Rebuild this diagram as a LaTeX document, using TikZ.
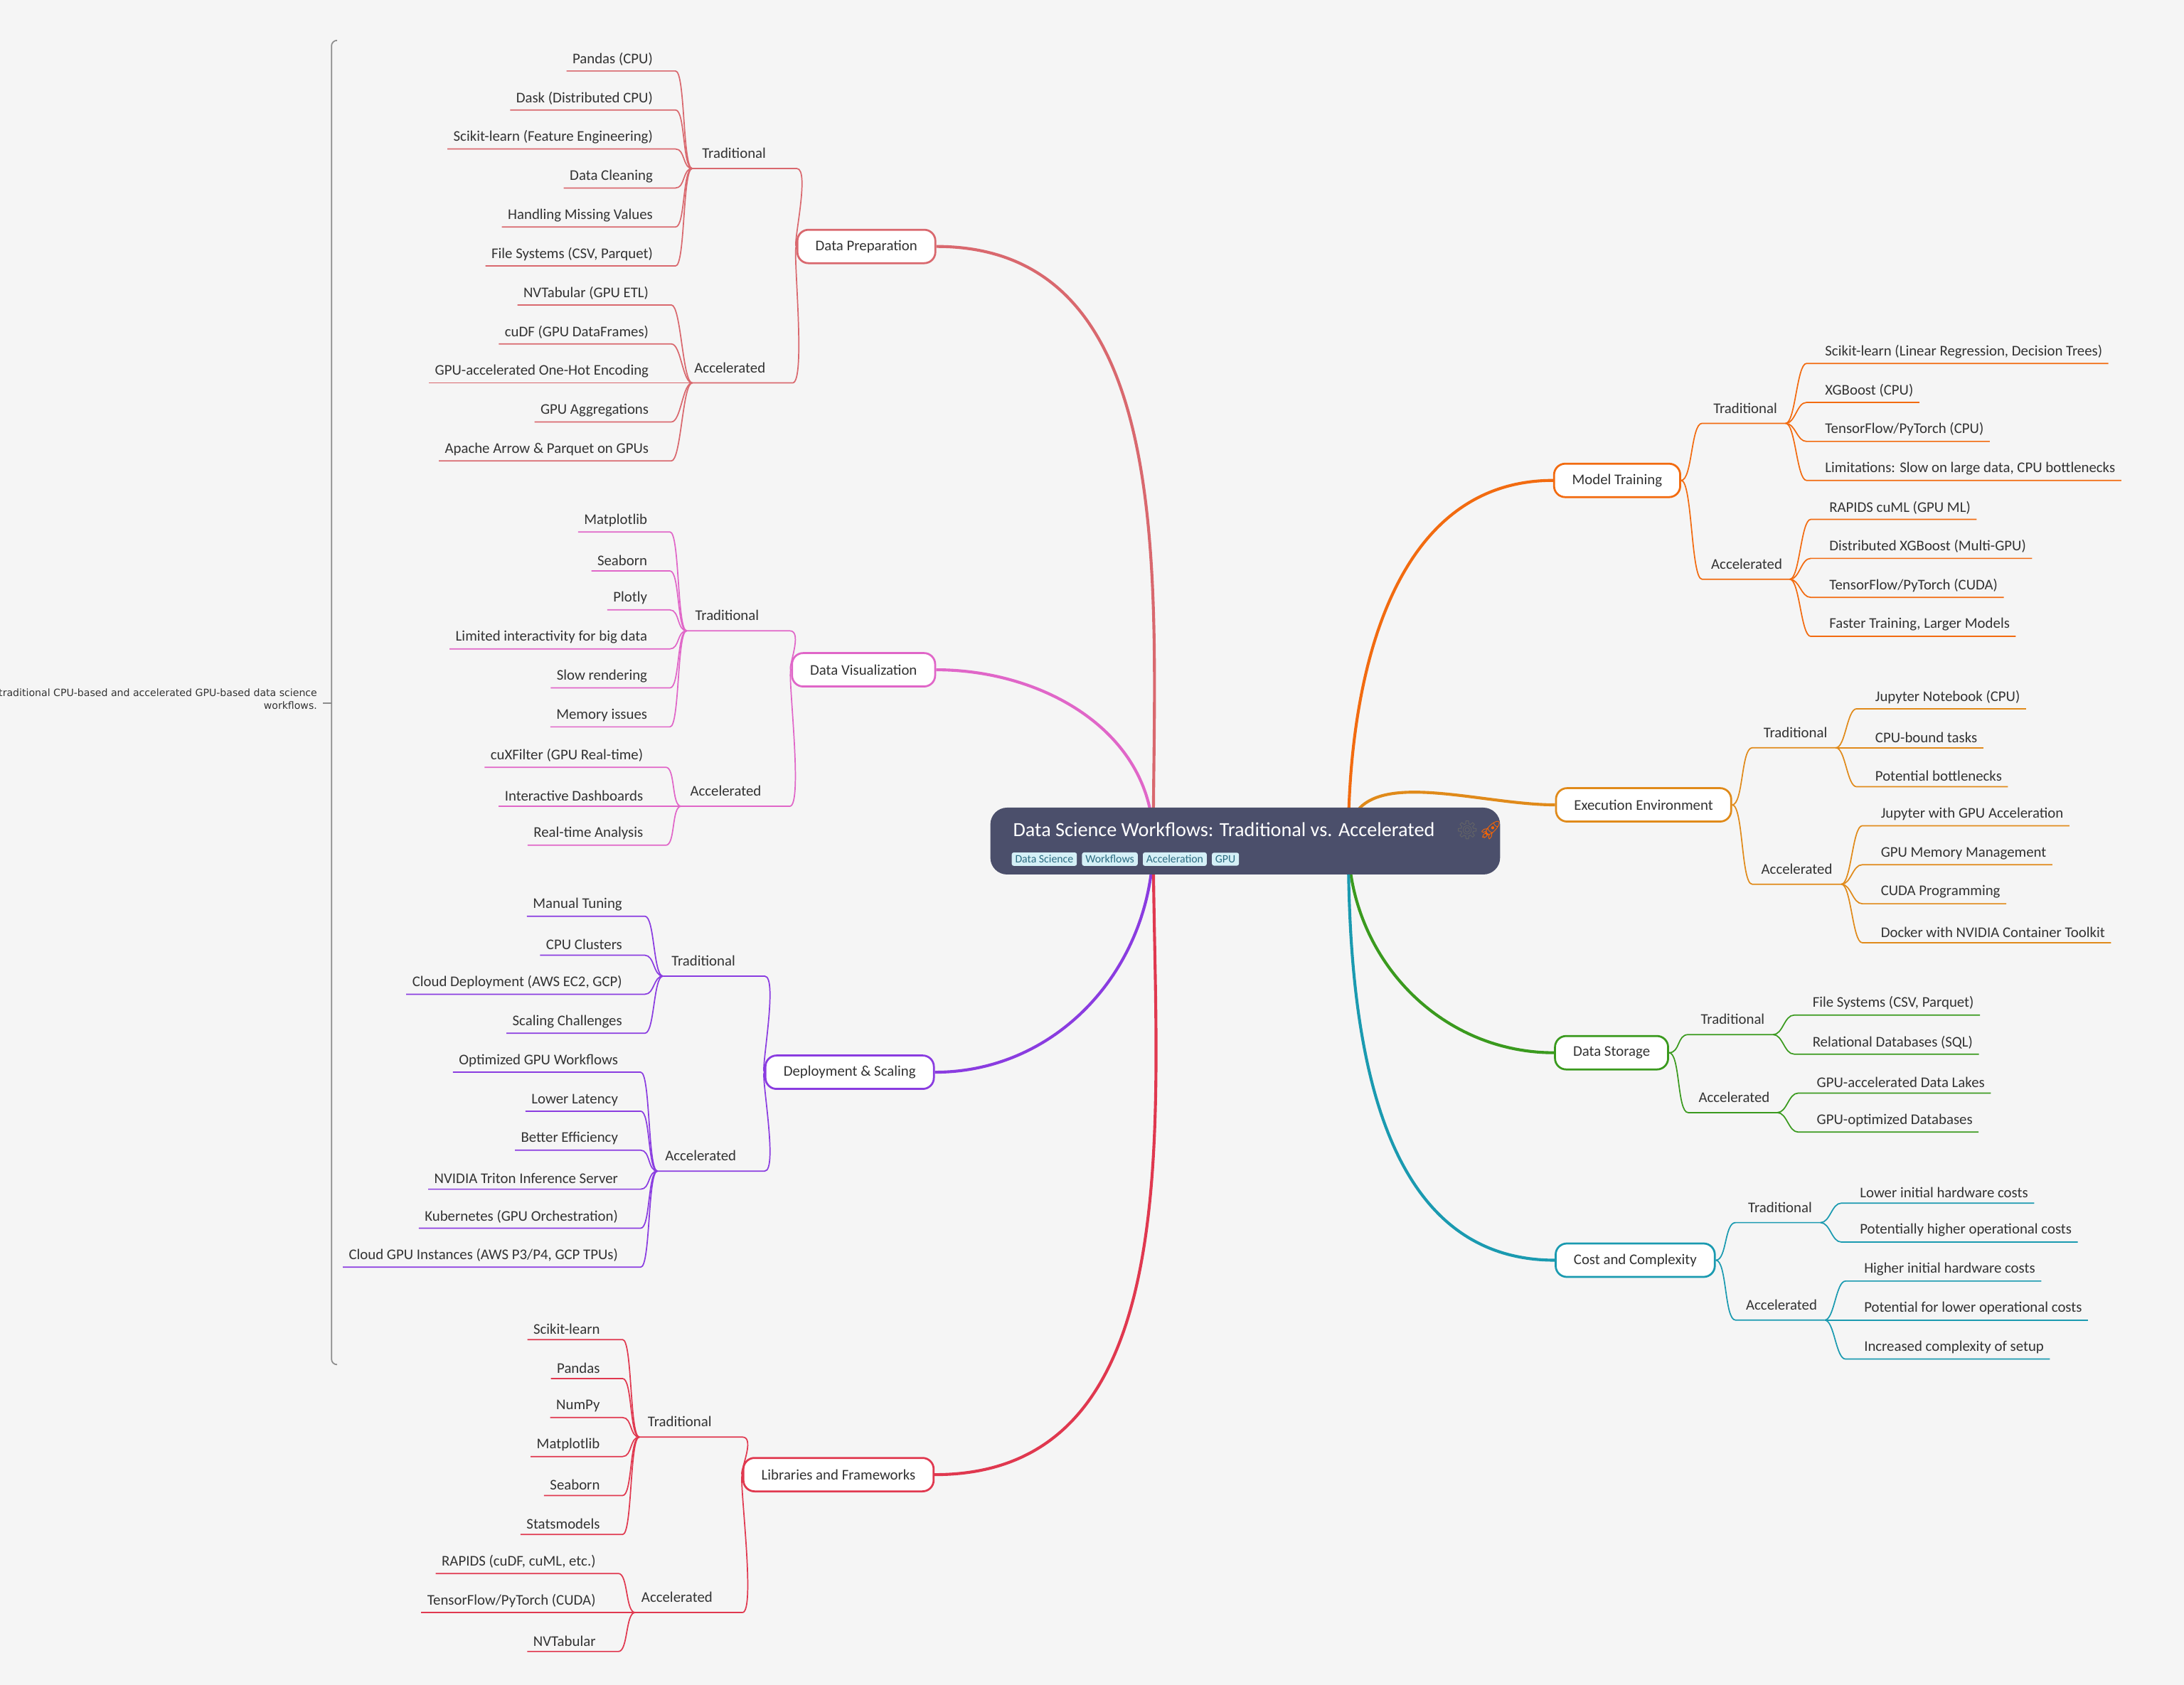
\documentclass[tikz,border=0pt]{standalone}
\usepackage{fontspec}
\usetikzlibrary{positioning}
\setmainfont{Carlito}
\newfontfamily\notefont{DejaVu Sans}
\newfontfamily\emojifont{Noto Emoji}
\definecolor{bgcol}{HTML}{F5F5F5}
\definecolor{rootcol}{HTML}{4B4F6B}
\definecolor{tagcol}{HTML}{D5F0F7}
\definecolor{tagtext}{HTML}{2A6A80}
\definecolor{prepcol}{HTML}{D9686E}
\definecolor{viscol}{HTML}{E066C8}
\definecolor{depcol}{HTML}{8A3CE0}
\definecolor{libcol}{HTML}{E0384F}
\definecolor{traincol}{HTML}{F26B10}
\definecolor{execcol}{HTML}{E08A1A}
\definecolor{storecol}{HTML}{3A9A1E}
\definecolor{costcol}{HTML}{1A9AB0}

\tikzset{
  txt/.style={font=\fontsize{6.05}{7}\selectfont, text=black!80, inner xsep=0pt, inner ysep=0.07cm},
  topic/.style={txt, draw=#1, line width=0.8pt, fill=white, rounded corners=0.16cm,
    inner xsep=0.26cm, minimum height=0.48cm},
  tag/.style={fill=tagcol, text=tagtext, font=\fontsize{4.6}{5}\selectfont,
    inner xsep=0.05cm, inner ysep=0.04cm, rounded corners=0.03cm, anchor=west},
}

% leaves on the left: colour, sub point, text right edge, list
\newcommand{\leafsL}[4]{%
  \foreach \y/\t in {#4} {
    \node[txt, anchor=south east] (#2-\y) at (#3,\y+11) {\t};
    \draw[#1, line width=0.5pt] ([xshift=-0.08cm]#2-\y.south west) -- (#3+16,\y+11)
      .. controls +(7,0) and +(-7,0) .. (#2);
  }
}
% leaves on the right: colour, sub point, text left edge, list
\newcommand{\leafsR}[4]{%
  \foreach \y/\t in {#4} {
    \node[txt, anchor=south west] (#2-\y) at (#3,\y+11) {\t};
    \draw[#1, line width=0.5pt] ([xshift=0.08cm]#2-\y.south east) -- (#3-13,\y+11)
      .. controls +(-7,0) and +(7,0) .. (#2);
  }
}

\begin{document}
\begin{tikzpicture}[x=0.02cm,y=-0.02cm]
  \fill[bgcol] (0,0) rectangle (1568,1210);
  \useasboundingbox (0,0) rectangle (1568,1210);

  % note
  \draw[black!45, line width=0.5pt, rounded corners=0.08cm]
    (242,29) -- (238,29) -- (238,980) -- (242,980);
  \draw[black!45, line width=0.5pt] (232,505) -- (238,505);
  \node[font=\notefont\fontsize{4.1}{5}\selectfont, text=black!80, align=right,
    anchor=east, inner sep=0pt] (note) at (228,502)
    {traditional CPU-based and accelerated GPU-based data science\\workflows.};

  % main branches
  \coordinate (cl) at (828,604);
  \coordinate (cr) at (968,604);
  \node[topic=prepcol] (prep) at (622,177) {Data Preparation};
  \node[topic=viscol] (vis) at (620,481) {Data Visualization};
  \node[topic=depcol] (dep) at (610,770) {Deployment \& Scaling};
  \node[topic=libcol] (lib) at (602,1059) {Libraries and Frameworks};
  \node[topic=traincol] (train) at (1161,345) {Model Training};
  \node[topic=execcol] (exec) at (1180,578) {Execution Environment};
  \node[topic=storecol] (store) at (1157,756) {Data Storage};
  \node[topic=costcol] (cost) at (1174,905) {Cost and Complexity};

  \draw[prepcol, line width=1.2pt] (prep.east) to[out=0,in=90] (cl);
  \draw[viscol, line width=1.2pt] (vis.east) to[out=0,in=90] (cl);
  \draw[depcol, line width=1.2pt] (dep.east) to[out=0,in=-90] (cl);
  \draw[libcol, line width=1.2pt] (lib.east) to[out=0,in=-90] (cl);
  \draw[traincol, line width=1.2pt] (cr) to[out=90,in=180] (train.west);
  \draw[execcol, line width=1.2pt] (cr) to[out=90,in=180] (exec.west);
  \draw[storecol, line width=1.2pt] (cr) to[out=-90,in=180] (store.west);
  \draw[costcol, line width=1.2pt] (cr) to[out=-90,in=180] (cost.west);

  % sub branches, left
  \foreach \c/\p/\n/\tx/\ty/\a/\b/\t in {
      prepcol/prep/pt/527/110/497/572/Traditional,
      prepcol/prep/pa/524/264/497/569/Accelerated,
      viscol/vis/vt/522/442/493/567/Traditional,
      viscol/vis/va/521/568/489/567/Accelerated,
      depcol/dep/dt/505/690/476/549/Traditional,
      depcol/dep/da/503/830/472/549/Accelerated,
      libcol/lib/lt/488/1021/459/533/Traditional,
      libcol/lib/la/486/1147/456/533/Accelerated} {
    \node[txt] (\n-lbl) at (\tx,\ty) {\t};
    \coordinate (\n) at (\a,\ty+11);
    \draw[\c, line width=0.5pt] (\n) -- (\b,\ty+11)
      .. controls +(10,0) and +(-3,0) .. (\p.west);
  }
  % sub branches, right
  \foreach \c/\p/\n/\tx/\ty/\a/\b/\t in {
      traincol/train/mt/1253/293/1222/1282/Traditional,
      traincol/train/ma/1254/405/1222/1285/Accelerated,
      execcol/exec/et/1289/526/1258/1318/Traditional,
      execcol/exec/ea/1290/624/1258/1322/Accelerated,
      storecol/store/st/1244/732/1212/1273/Traditional,
      storecol/store/sa/1245/788/1212/1276/Accelerated,
      costcol/cost/ct/1278/867/1246/1307/Traditional,
      costcol/cost/ca/1279/937/1246/1310/Accelerated} {
    \node[txt] (\n-lbl) at (\tx,\ty) {\t};
    \coordinate (\n) at (\b,\ty+11);
    \draw[\c, line width=0.5pt] (\p.east) .. controls +(8,0) and +(-8,0) .. (\a,\ty+11) -- (\n);
  }

  % leaves
  \leafsL{prepcol}{pt}{469}{40/{Pandas (CPU)}, 68/{Dask (Distributed CPU)},
    96/{Scikit-learn (Feature Engineering)}, 124/{Data Cleaning},
    152/{Handling Missing Values}, 180/{File Systems (CSV, Parquet)}}
  \leafsL{prepcol}{pa}{466}{208/{NVTabular (GPU ETL)}, 236/{cuDF (GPU DataFrames)},
    264/{GPU-accelerated One-Hot Encoding}, 292/{GPU Aggregations},
    320/{Apache Arrow \& Parquet on GPUs}}
  \leafsL{viscol}{vt}{465}{371/{Matplotlib}, 399/{Seaborn}, 427/{Plotly},
    455/{Limited interactivity for big data}, 483/{Slow rendering}, 511/{Memory issues}}
  \leafsL{viscol}{va}{462}{540/{cuXFilter (GPU Real-time)}, 568/{Interactive Dashboards},
    596/{Real-time Analysis}}
  \leafsL{depcol}{dt}{447}{647/{Manual Tuning}, 675/{CPU Clusters},
    703/{Cloud Deployment (AWS EC2, GCP)}, 731/{Scaling Challenges}}
  \leafsL{depcol}{da}{444}{759/{Optimized GPU Workflows}, 787/{Lower Latency},
    815/{Better Efficiency}, 843/{NVIDIA Triton Inference Server},
    871/{Kubernetes (GPU Orchestration)}, 899/{Cloud GPU Instances (AWS P3/P4, GCP TPUs)}}
  \leafsL{libcol}{lt}{431}{951/{Scikit-learn}, 979/{Pandas}, 1007/{NumPy},
    1035/{Matplotlib}, 1063/{Seaborn}, 1091/{Statsmodels}}
  \leafsL{libcol}{la}{428}{1119/{RAPIDS (cuDF, cuML, etc.)}, 1147/{TensorFlow/PyTorch (CUDA)},
    1175/{NVTabular}}

  \leafsR{traincol}{mt}{1310}{250/{Scikit-learn (Linear Regression, Decision Trees)},
    278/{XGBoost (CPU)}, 306/{TensorFlow/PyTorch (CPU)},
    334/{Limitations: Slow on large data, CPU bottlenecks}}
  \leafsR{traincol}{ma}{1313}{362/{RAPIDS cuML (GPU ML)}, 390/{Distributed XGBoost (Multi-GPU)},
    418/{TensorFlow/PyTorch (CUDA)}, 446/{Faster Training, Larger Models}}
  \leafsR{execcol}{et}{1346}{498/{Jupyter Notebook (CPU)}, 526/{CPU-bound tasks},
    554/{Potential bottlenecks}}
  \leafsR{execcol}{ea}{1350}{582/{Jupyter with GPU Acceleration}, 610/{GPU Memory Management},
    638/{CUDA Programming}, 666/{Docker with NVIDIA Container Toolkit}}
  \leafsR{storecol}{st}{1301}{718/{File Systems (CSV, Parquet)}, 746/{Relational Databases (SQL)}}
  \leafsR{storecol}{sa}{1304}{774/{GPU-accelerated Data Lakes}, 802/{GPU-optimized Databases}}
  \leafsR{costcol}{ct}{1335}{853/{Lower initial hardware costs},
    881/{Potentially higher operational costs}}
  \leafsR{costcol}{ca}{1338}{909/{Higher initial hardware costs},
    937/{Potential for lower operational costs}, 965/{Increased complexity of setup}}

  % root
  \node[fill=rootcol, rounded corners=0.24cm, minimum width=7.32cm, minimum height=0.96cm,
    inner sep=0pt] (root) at (894,604) {};
  \node[anchor=west, text=white, font=\fontsize{8.2}{10}\selectfont, inner sep=0pt]
    (title) at (727,596) {Data Science Workflows: Traditional vs. Accelerated\hspace{0.3cm}%
    {\emojifont\fontsize{7.5}{9}\selectfont\textcolor{black!60}{⚙}\textcolor{orange!80!red}{🚀}}};
  \node[tag] (t1) at (726,617) {Data Science};
  \node[tag, right=0.06cm of t1] (t2) {Workflows};
  \node[tag, right=0.06cm of t2] (t3) {Acceleration};
  \node[tag, right=0.06cm of t3] (t4) {GPU};
\end{tikzpicture}
\end{document}
